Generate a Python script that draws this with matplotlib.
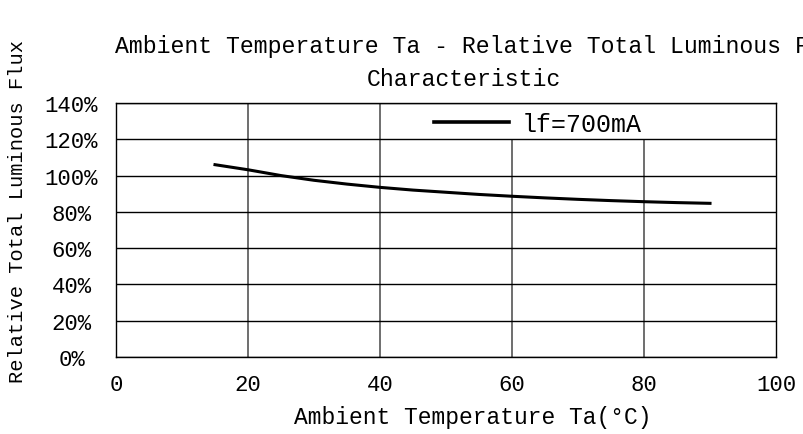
import matplotlib
matplotlib.use("Agg")
from matplotlib import pyplot as plt
import numpy as np

plt.rcParams["font.family"] = ["Liberation Mono", "DejaVu Sans Mono"]

# curve
temp = [15, 20, 25, 30, 35, 40, 45, 50, 55, 60, 65, 70, 75, 80, 85, 90]
flux = [106.0, 103.2, 100.0, 97.4, 95.3, 93.5, 92.0, 90.8, 89.6, 88.6,
        87.7, 86.9, 86.2, 85.6, 85.1, 84.7]
series_label = "lf=700mA"

xticks = [0, 20, 40, 60, 80, 100]
yticks = [0, 20, 40, 60, 80, 100, 120, 140]
ytick_labels = [f"{v}%" for v in yticks]

fig = plt.figure(figsize=(8.04, 4.35), dpi=100)
ax = fig.add_axes([116 / 804, 1 - 358 / 435, 660 / 804, 254 / 435])

ax.set_xlim(0, 100)
ax.set_ylim(0, 140)

# horizontal grid black, vertical grid grey; legend band hides the right verticals
ax.set_axisbelow(True)
ax.grid(axis="y", color="black", linewidth=1.0)
for t in xticks[1:-1]:
    top = 140 if t < 50 else 120
    ax.vlines(t, 0, top, color="#555555", linewidth=1.2, zorder=0.5)

ax.plot(temp, flux, color="black", linewidth=2.2, label=series_label)

ax.set_xticks(xticks)
ax.set_yticks(yticks)
ax.set_yticklabels(ytick_labels)
ax.tick_params(length=0)
ax.tick_params(axis="x", labelsize=16, pad=12)
ax.tick_params(axis="y", labelsize=16, pad=32)
for lab in ax.get_yticklabels():
    lab.set_horizontalalignment("center")

for s in ax.spines.values():
    s.set_linewidth(1.0)
    s.set_color("black")

leg = ax.legend(loc="center left", bbox_to_anchor=(0.482, 0.917), frameon=False,
                fontsize=18, handlelength=3.0, handletextpad=0.5,
                borderpad=0, borderaxespad=0)
for h in leg.get_lines():
    h.set_linewidth(2.6)

fig.text(473 / 804, 1 - 418 / 435, "Ambient Temperature Ta(°C)",
         fontsize=16.5, ha="center", va="center")
fig.text(18 / 804, 1 - 212 / 435, "Relative Total Luminous Flux",
         rotation=90, fontsize=14.7, ha="center", va="center")

fig.text(115 / 804, 1 - 47 / 435,
         "Ambient Temperature Ta - Relative Total Luminous Flux",
         fontsize=16.7, ha="left", va="center")
fig.text(367 / 804, 1 - 79 / 435, "Characteristic",
         fontsize=16.7, ha="left", va="center")

fig.savefig("out.png", dpi=100)
